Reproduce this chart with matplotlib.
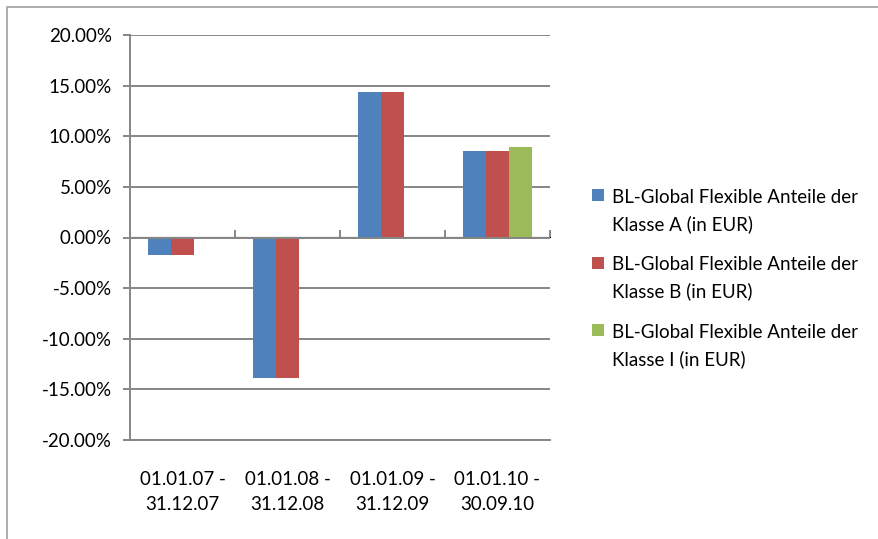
import matplotlib
matplotlib.use("Agg")
import matplotlib.pyplot as plt
import numpy as np
from matplotlib.patches import Rectangle
from matplotlib.ticker import FuncFormatter

categories = ["01.01.07 -\n31.12.07", "01.01.08 -\n31.12.08", "01.01.09 -\n31.12.09", "01.01.10 -\n30.09.10"]
series_names = [
    "BL-Global Flexible Anteile der\nKlasse A (in EUR)",
    "BL-Global Flexible Anteile der\nKlasse B (in EUR)",
    "BL-Global Flexible Anteile der\nKlasse I (in EUR)",
]
class_a = [-1.7, -13.9, 14.4, 8.5]
class_b = [-1.7, -13.9, 14.4, 8.5]
class_i = [np.nan, np.nan, np.nan, 8.9]
colors = ["#4F81BD", "#C0504D", "#9BBB59"]
yticks = [-20, -15, -10, -5, 0, 5, 10, 15, 20]

W, H = 879, 539
FS = 13.5
plt.rcParams["font.family"] = ["Lato", "DejaVu Sans"]
fig = plt.figure(figsize=(W / 100, H / 100), dpi=100)
ax = fig.add_axes([130 / W, 1 - 440 / H, (550 - 130) / W, (440 - 35) / H])

grid_c = "#868686"
x = np.arange(len(categories))
w = 0.222
for k, (vals, c, name) in enumerate(zip([class_a, class_b, class_i], colors, series_names)):
    ax.bar(x + (k - 1) * w, vals, width=w, color=c, label=name, zorder=3)

ax.set_xlim(-0.5, len(categories) - 0.5)
ax.set_ylim(-20, 20)
ax.set_yticks(yticks)
ax.yaxis.set_major_formatter(FuncFormatter(lambda v, p: f"{v:.2f}%"))
ax.grid(axis="y", color=grid_c, linewidth=1.4, zorder=0)
ax.set_axisbelow(True)

for s in ["top", "right"]:
    ax.spines[s].set_visible(False)
ax.spines["left"].set_color(grid_c)
ax.spines["left"].set_linewidth(1.4)
ax.spines["bottom"].set_color(grid_c)
ax.spines["bottom"].set_linewidth(1.4)

ax.tick_params(axis="y", length=5, width=1.4, color=grid_c, labelsize=FS, pad=8, labelcolor="black")
ax.set_xticks(x)
ax.set_xticklabels(categories, fontsize=FS, linespacing=1.6)
ax.tick_params(axis="x", length=0, pad=22)

# category axis at zero with boundary ticks
sec = ax.secondary_xaxis(0.5)
sec.set_xticks(np.arange(-0.5, len(categories), 1.0))
sec.set_xticklabels([])
sec.spines["bottom"].set_color(grid_c)
sec.spines["bottom"].set_linewidth(1.4)
sec.tick_params(axis="x", length=5, width=1.4, color=grid_c, direction="out")
ax.axhline(0, color=grid_c, linewidth=1.4, zorder=4)

# legend (built by hand so the keys align with the first text line)
for i, (name, c) in enumerate(zip(series_names, colors)):
    y0 = 189 + 67.5 * i
    fig.patches.append(Rectangle((592 / W, 1 - (y0 + 12) / H), 12 / W, 12 / H,
                                 transform=fig.transFigure, facecolor=c, edgecolor="none"))
    fig.text(612 / W, 1 - y0 / H, name, fontsize=FS, va="top", ha="left", linespacing=1.6)

fig.patches.append(Rectangle((7 / W, -0.1), 1.2, 1 - 7 / H + 0.1, transform=fig.transFigure,
                             fill=False, edgecolor="#A0A0A0", linewidth=1.2))

fig.savefig("out.png", dpi=100)
